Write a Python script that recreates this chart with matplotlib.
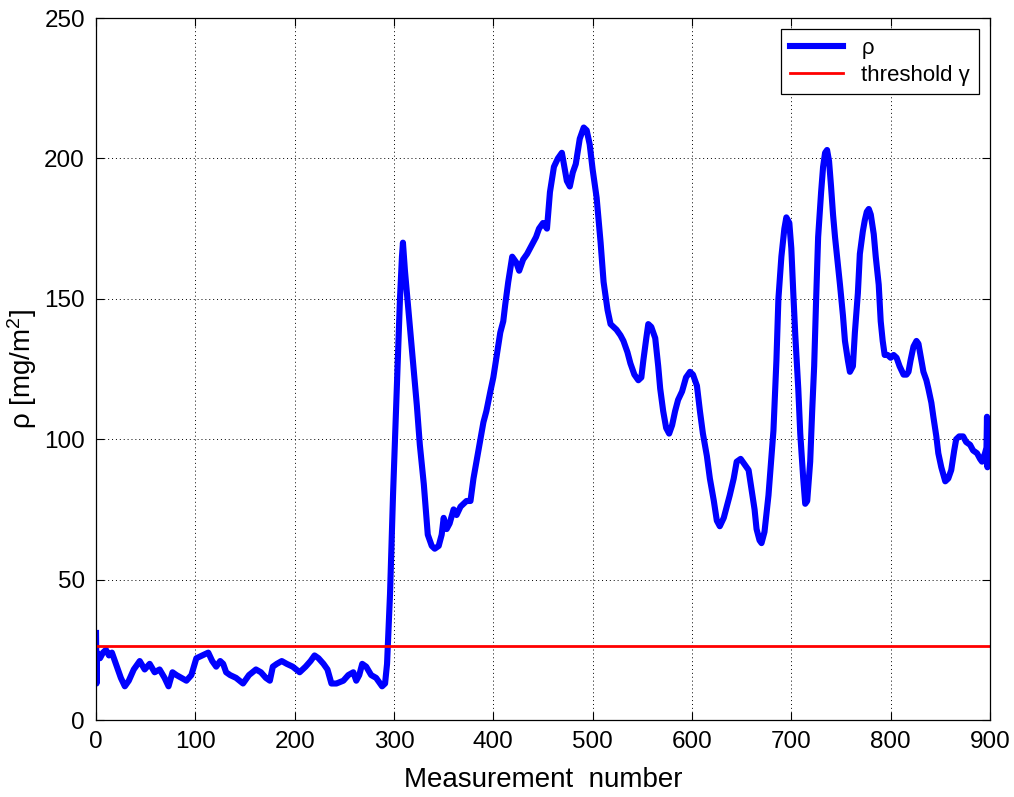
import matplotlib
matplotlib.use("Agg")
import matplotlib.pyplot as plt
import numpy as np

plt.rcParams['font.family'] = ['Liberation Sans', 'DejaVu Sans']
plt.rcParams['mathtext.fontset'] = 'custom'
plt.rcParams['mathtext.rm'] = 'Liberation Sans'
plt.rcParams['mathtext.it'] = 'Liberation Sans'

points = [
    (0, 31), (0.5, 13), (1, 24), (4, 22), (7, 24), (10, 25), (13, 23), (16, 24),
    (20, 20), (25, 15), (29, 12), (33, 14), (38, 18), (44, 21), (49, 18), (54, 20),
    (59, 17), (64, 18), (69, 15), (73, 12), (77, 17), (81, 16), (86, 15), (91, 14),
    (96, 16), (101, 22), (107, 23), (113, 24), (117, 21), (121, 19), (125, 21),
    (128, 20), (131, 17), (135, 16), (141, 15), (148, 13), (154, 16), (161, 18),
    (166, 17), (171, 15), (175, 14), (178, 19), (182, 20), (187, 21), (192, 20),
    (198, 19), (205, 17), (211, 19), (216, 21), (220, 23), (224, 22), (229, 20),
    (233, 18), (237, 13), (242, 13), (249, 14), (254, 16), (259, 17), (262, 14),
    (265, 16), (268, 20), (272, 19), (277, 16), (282, 15), (288, 12), (291, 13),
    (293, 20), (296, 45),
    (299, 80), (302, 110), (304, 130), (306, 150), (308, 165), (309, 170),
    (311, 160), (313, 152), (316, 140), (319, 128), (323, 112), (326, 98),
    (330, 84), (334, 66), (338, 62), (341, 61), (345, 62), (348, 66), (350, 72),
    (353, 68), (356, 70), (360, 75), (363, 73), (367, 76), (370, 77), (373, 78),
    (377, 78), (380, 86), (383, 92), (387, 100), (390, 106), (393, 110),
    (397, 117), (400, 122), (404, 131), (407, 138), (410, 142), (412, 148),
    (415, 156), (419, 165), (423, 163), (426, 160), (430, 164), (434, 166),
    (437, 168), (440, 170), (443, 172), (446, 175), (450, 177), (454, 175),
    (457, 188), (461, 197), (465, 200), (469, 202), (474, 192), (477, 190),
    (480, 195), (483, 198), (487, 207), (491, 211), (494, 210), (497, 205),
    (500, 196), (504, 186), (508, 170), (511, 156), (515, 146), (518, 141),
    (521, 140), (524, 139), (528, 137), (531, 135), (535, 131), (538, 127),
    (542, 123), (546, 121), (549, 122), (551, 128), (554, 136), (556, 141),
    (559, 140), (563, 136), (566, 126), (568, 118), (571, 110), (574, 104),
    (577, 102), (580, 105), (583, 110), (586, 114), (590, 117), (594, 122),
    (598, 124), (601, 123), (605, 119), (608, 110), (611, 102), (615, 94),
    (618, 86), (622, 78), (625, 71), (628, 69), (632, 72), (635, 76),
    (638, 80), (642, 86), (645, 92), (649, 93), (653, 91), (657, 89),
    (660, 82), (663, 75), (665, 68), (668, 64), (670, 63), (673, 67),
    (677, 80), (680, 94), (682, 103), (685, 128), (687, 150), (690, 165),
    (693, 175), (695, 179), (698, 177), (700, 168), (702, 152), (704, 137),
    (707, 118), (709, 102), (712, 86), (714, 77), (716, 78), (719, 92),
    (721, 110), (723, 126), (725, 150), (727, 172), (730, 188), (732, 197),
    (734, 202), (736, 203), (738, 199), (740, 190), (742, 180), (744, 172),
    (747, 162), (749, 155), (752, 144), (754, 135), (757, 128), (759, 124),
    (762, 126), (764, 138), (767, 152), (769, 166), (772, 174), (774, 178),
    (776, 181), (778, 182), (780, 180), (783, 173), (785, 165), (788, 155),
    (790, 142), (792, 135), (794, 130), (797, 130), (800, 129), (803, 130),
    (806, 129), (809, 126), (813, 123), (816, 123), (818, 124), (820, 128),
    (823, 133), (826, 135), (828, 134), (831, 128), (833, 124), (836, 121),
    (838, 118), (841, 113), (843, 108), (846, 101), (848, 95), (851, 90),
    (855, 85), (858, 86), (861, 89), (864, 96), (866, 100), (869, 101),
    (873, 101), (876, 99), (880, 98), (883, 96), (887, 95), (890, 93),
    (892, 92), (895, 95), (896.5, 97), (897, 108), (897.5, 90), (898, 100),
]
meas = [p[0] for p in points]
rho = [p[1] for p in points]

threshold = 26.3

fig = plt.figure(figsize=(10.14, 7.97), dpi=100)
ax = fig.add_axes([0.0947, 0.0966, 0.8816, 0.8808])

ax.plot(meas, rho, color='#0000ff', lw=4.4, label='ρ')
ax.plot([0, 900], [threshold, threshold], color='#ff0000', lw=2, label='threshold γ')

ax.set_xlim(0, 900)
ax.set_ylim(0, 250)
ax.set_xticks(np.arange(0, 901, 100))
ax.set_yticks(np.arange(0, 251, 50))
ax.tick_params(direction='in', top=True, right=True, labelsize=17.5, length=6, width=0.8, pad=8)
ax.grid(True, color='black', linestyle=(0, (1, 3)), linewidth=0.7)
for s in ax.spines.values():
    s.set_linewidth(0.9)

ax.set_xlabel('Measurement  number', fontsize=20, labelpad=10)
ax.set_ylabel('ρ [mg/m$^2$]', fontsize=20, labelpad=4)

leg = ax.legend(loc='upper right', fontsize=16, fancybox=False, framealpha=1,
                edgecolor='black', borderaxespad=0.5, handlelength=2.4,
                borderpad=0.4, labelspacing=0.25)
leg.get_frame().set_linewidth(0.9)

fig.savefig('out.png', dpi=100)
plt.close(fig)
